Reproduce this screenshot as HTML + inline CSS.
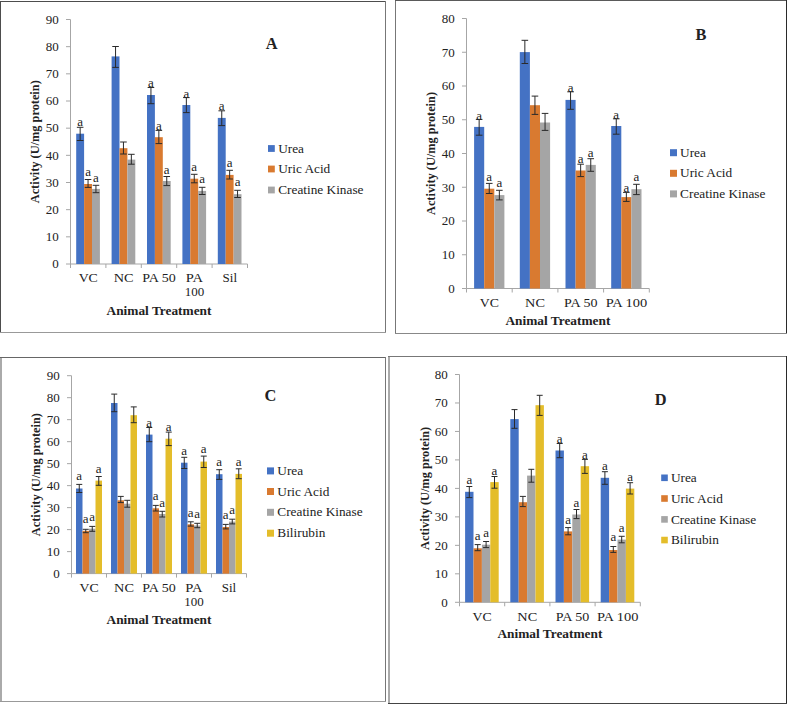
<!DOCTYPE html>
<html><head><meta charset="utf-8"><style>
html,body{margin:0;padding:0;background:#fff;}
body{width:787px;height:704px;overflow:hidden;}
svg{display:block;}
text{font-family:"Liberation Serif",serif;font-size:13px;fill:#222;}
text.a{font-size:13px;}
text.leg{font-size:13.3px;}
text.ttl{font-size:16.4px;}
</style></head><body>
<svg width="787" height="704" viewBox="0 0 787 704">
<rect width="787" height="704" fill="#fff"/>
<rect x="0" y="1" width="1" height="332" fill="#4d4d4d"/>
<rect x="0" y="1" width="386" height="1" fill="#4d4d4d"/>
<rect x="385" y="1" width="1" height="332" fill="#777"/>
<rect x="0" y="332" width="386" height="1" fill="#999"/>
<path d="M70.5 19.5V264H247.5" fill="none" stroke="#A6A6A6" stroke-width="1"/>
<path d="M66 264H70.5M66 236.83H70.5M66 209.67H70.5M66 182.5H70.5M66 155.33H70.5M66 128.16H70.5M66 101H70.5M66 73.83H70.5M66 46.66H70.5M66 19.5H70.5M70.5 264V268M105.9 264V268M141.3 264V268M176.7 264V268M212.1 264V268M247.5 264V268" fill="none" stroke="#A6A6A6" stroke-width="1"/>
<text x="58.7" y="268.3" text-anchor="end">0</text>
<text x="58.7" y="241.13" text-anchor="end">10</text>
<text x="58.7" y="213.97" text-anchor="end">20</text>
<text x="58.7" y="186.8" text-anchor="end">30</text>
<text x="58.7" y="159.63" text-anchor="end">40</text>
<text x="58.7" y="132.47" text-anchor="end">50</text>
<text x="58.7" y="105.3" text-anchor="end">60</text>
<text x="58.7" y="78.13" text-anchor="end">70</text>
<text x="58.7" y="50.96" text-anchor="end">80</text>
<text x="58.7" y="23.8" text-anchor="end">90</text>
<rect x="76.2" y="133.7" width="7.9" height="130.3" fill="#4472C4"/>
<rect x="84.1" y="184" width="7.9" height="80" fill="#D97A30"/>
<rect x="92" y="188.9" width="7.9" height="75.1" fill="#A5A5A5"/>
<rect x="111.6" y="56.4" width="7.9" height="207.6" fill="#4472C4"/>
<rect x="119.5" y="148.2" width="7.9" height="115.8" fill="#D97A30"/>
<rect x="127.4" y="159.6" width="7.9" height="104.4" fill="#A5A5A5"/>
<rect x="147" y="95" width="7.9" height="169" fill="#4472C4"/>
<rect x="154.9" y="137.2" width="7.9" height="126.8" fill="#D97A30"/>
<rect x="162.8" y="181" width="7.9" height="83" fill="#A5A5A5"/>
<rect x="182.4" y="105" width="7.9" height="159" fill="#4472C4"/>
<rect x="190.3" y="178.7" width="7.9" height="85.3" fill="#D97A30"/>
<rect x="198.2" y="190.9" width="7.9" height="73.1" fill="#A5A5A5"/>
<rect x="217.8" y="117.9" width="7.9" height="146.1" fill="#4472C4"/>
<rect x="225.7" y="174.9" width="7.9" height="89.1" fill="#D97A30"/>
<rect x="233.6" y="194.2" width="7.9" height="69.8" fill="#A5A5A5"/>
<path d="M80.15 127.3V140.5M76.85 127.3H83.45M76.85 140.5H83.45M88.05 179.5V187.4M84.75 179.5H91.35M84.75 187.4H91.35M95.95 185.3V192.7M92.65 185.3H99.25M92.65 192.7H99.25M115.55 46.5V67.4M112.25 46.5H118.85M112.25 67.4H118.85M123.45 142V154M120.15 142H126.75M120.15 154H126.75M131.35 154.3V164.2M128.05 154.3H134.65M128.05 164.2H134.65M150.95 87.5V103.7M147.65 87.5H154.25M147.65 103.7H154.25M158.85 130.4V143.6M155.55 130.4H162.15M155.55 143.6H162.15M166.75 176.5V185.6M163.45 176.5H170.05M163.45 185.6H170.05M186.35 97.6V112.6M183.05 97.6H189.65M183.05 112.6H189.65M194.25 174.3V182.8M190.95 174.3H197.55M190.95 182.8H197.55M202.15 187.3V194.5M198.85 187.3H205.45M198.85 194.5H205.45M221.75 110.8V125.6M218.45 110.8H225.05M218.45 125.6H225.05M229.65 170.3V179M226.35 170.3H232.95M226.35 179H232.95M237.55 190.3V197.5M234.25 190.3H240.85M234.25 197.5H240.85" fill="none" stroke="#2a2a2a" stroke-width="1"/>
<text class="a" x="80.15" y="126" text-anchor="middle">a</text>
<text class="a" x="88.05" y="176.3" text-anchor="middle">a</text>
<text class="a" x="95.95" y="181.7" text-anchor="middle">a</text>
<text class="a" x="150.95" y="87.2" text-anchor="middle">a</text>
<text class="a" x="158.85" y="129.7" text-anchor="middle">a</text>
<text class="a" x="166.75" y="173.7" text-anchor="middle">a</text>
<text class="a" x="186.35" y="97.5" text-anchor="middle">a</text>
<text class="a" x="194.25" y="171.1" text-anchor="middle">a</text>
<text class="a" x="202.15" y="183.1" text-anchor="middle">a</text>
<text class="a" x="221.75" y="110.3" text-anchor="middle">a</text>
<text class="a" x="229.65" y="167.2" text-anchor="middle">a</text>
<text class="a" x="237.55" y="186" text-anchor="middle">a</text>
<text class="cat" x="88.2" y="282" text-anchor="middle" textLength="19.15" lengthAdjust="spacingAndGlyphs">VC</text>
<text class="cat" x="123.6" y="282" text-anchor="middle" textLength="19.87" lengthAdjust="spacingAndGlyphs">NC</text>
<text class="cat" x="159" y="282" text-anchor="middle" textLength="33.45" lengthAdjust="spacingAndGlyphs">PA 50</text>
<text class="cat" x="194.4" y="282" text-anchor="middle" textLength="17.29" lengthAdjust="spacingAndGlyphs">PA</text>
<text class="cat" x="194.4" y="295.8" text-anchor="middle">100</text>
<text class="cat" x="229.8" y="282" text-anchor="middle">Sil</text>
<text class="xt" x="159" y="314.7" text-anchor="middle" font-weight="bold" textLength="105.0" lengthAdjust="spacingAndGlyphs">Animal Treatment</text>
<text class="yt" transform="translate(38.6 141.75) rotate(-90)" x="0" y="0" text-anchor="middle" font-weight="bold" textLength="123.0" lengthAdjust="spacingAndGlyphs">Activity (U/mg protein)</text>
<text class="ttl" x="265.8" y="49.2" font-weight="bold" font-size="16">A</text>
<rect x="268" y="145.1" width="6.8" height="6.8" fill="#4472C4"/>
<text class="leg" x="278.2" y="152.6">Urea</text>
<rect x="268" y="165.6" width="6.8" height="6.8" fill="#D97A30"/>
<text class="leg" x="278.2" y="173.1">Uric Acid</text>
<rect x="268" y="186.6" width="6.8" height="6.8" fill="#A5A5A5"/>
<text class="leg" x="278.2" y="194.1">Creatine Kinase</text>
<rect x="395" y="0" width="1" height="334" fill="#777"/>
<rect x="395" y="0" width="392" height="1" fill="#5a5a5a"/>
<rect x="786" y="0" width="1" height="334" fill="#2a2a2a"/>
<rect x="395" y="333" width="392" height="1" fill="#888"/>
<path d="M466.5 18.5V288.5H649.3" fill="none" stroke="#A6A6A6" stroke-width="1"/>
<path d="M462 288.5H466.5M462 254.75H466.5M462 221H466.5M462 187.25H466.5M462 153.5H466.5M462 119.75H466.5M462 86H466.5M462 52.25H466.5M462 18.5H466.5M466.5 288.5V292.5M512.2 288.5V292.5M557.9 288.5V292.5M603.6 288.5V292.5M649.3 288.5V292.5" fill="none" stroke="#A6A6A6" stroke-width="1"/>
<text x="454.7" y="292.8" text-anchor="end">0</text>
<text x="454.7" y="259.05" text-anchor="end">10</text>
<text x="454.7" y="225.3" text-anchor="end">20</text>
<text x="454.7" y="191.55" text-anchor="end">30</text>
<text x="454.7" y="157.8" text-anchor="end">40</text>
<text x="454.7" y="124.05" text-anchor="end">50</text>
<text x="454.7" y="90.3" text-anchor="end">60</text>
<text x="454.7" y="56.55" text-anchor="end">70</text>
<text x="454.7" y="22.8" text-anchor="end">80</text>
<rect x="474.1" y="126.9" width="10.1" height="161.6" fill="#4472C4"/>
<rect x="484.2" y="188.7" width="10.1" height="99.8" fill="#D97A30"/>
<rect x="494.3" y="195.1" width="10.1" height="93.4" fill="#A5A5A5"/>
<rect x="519.8" y="52.1" width="10.1" height="236.4" fill="#4472C4"/>
<rect x="529.9" y="105.2" width="10.1" height="183.3" fill="#D97A30"/>
<rect x="540" y="122.5" width="10.1" height="166" fill="#A5A5A5"/>
<rect x="565.5" y="99.9" width="10.1" height="188.6" fill="#4472C4"/>
<rect x="575.6" y="170.5" width="10.1" height="118" fill="#D97A30"/>
<rect x="585.7" y="164.9" width="10.1" height="123.6" fill="#A5A5A5"/>
<rect x="611.2" y="126" width="10.1" height="162.5" fill="#4472C4"/>
<rect x="621.3" y="197.1" width="10.1" height="91.4" fill="#D97A30"/>
<rect x="631.4" y="189.2" width="10.1" height="99.3" fill="#A5A5A5"/>
<path d="M479.15 119.4V135.2M475.85 119.4H482.45M475.85 135.2H482.45M489.25 183.4V193.5M485.95 183.4H492.55M485.95 193.5H492.55M499.35 190.3V199.9M496.05 190.3H502.65M496.05 199.9H502.65M524.85 40.3V63.5M521.55 40.3H528.15M521.55 63.5H528.15M534.95 96.1V114.4M531.65 96.1H538.25M531.65 114.4H538.25M545.05 113.4V130.4M541.75 113.4H548.35M541.75 130.4H548.35M570.55 91.8V109.3M567.25 91.8H573.85M567.25 109.3H573.85M580.65 164.2V176.6M577.35 164.2H583.95M577.35 176.6H583.95M590.75 158.7V171.3M587.45 158.7H594.05M587.45 171.3H594.05M616.25 118.8V134.2M612.95 118.8H619.55M612.95 134.2H619.55M626.35 192.4V201.4M623.05 192.4H629.65M623.05 201.4H629.65M636.45 184.3V194.6M633.15 184.3H639.75M633.15 194.6H639.75" fill="none" stroke="#2a2a2a" stroke-width="1"/>
<text class="a" x="479.15" y="119.5" text-anchor="middle">a</text>
<text class="a" x="489.25" y="180.9" text-anchor="middle">a</text>
<text class="a" x="499.35" y="187.3" text-anchor="middle">a</text>
<text class="a" x="570.55" y="91.9" text-anchor="middle">a</text>
<text class="a" x="580.65" y="163.1" text-anchor="middle">a</text>
<text class="a" x="590.75" y="157" text-anchor="middle">a</text>
<text class="a" x="616.25" y="118.8" text-anchor="middle">a</text>
<text class="a" x="626.35" y="192.4" text-anchor="middle">a</text>
<text class="a" x="636.45" y="181.4" text-anchor="middle">a</text>
<text class="cat" x="489.35" y="306.7" text-anchor="middle" textLength="19.15" lengthAdjust="spacingAndGlyphs">VC</text>
<text class="cat" x="535.05" y="306.7" text-anchor="middle" textLength="19.87" lengthAdjust="spacingAndGlyphs">NC</text>
<text class="cat" x="580.75" y="306.7" text-anchor="middle" textLength="33.45" lengthAdjust="spacingAndGlyphs">PA 50</text>
<text class="cat" x="626.45" y="306.7" text-anchor="middle" textLength="41.59" lengthAdjust="spacingAndGlyphs">PA 100</text>
<text class="xt" x="557.9" y="324.5" text-anchor="middle" font-weight="bold" textLength="105.0" lengthAdjust="spacingAndGlyphs">Animal Treatment</text>
<text class="yt" transform="translate(435.2 153.5) rotate(-90)" x="0" y="0" text-anchor="middle" font-weight="bold" textLength="123.0" lengthAdjust="spacingAndGlyphs">Activity (U/mg protein)</text>
<text class="ttl" x="695.5" y="39.9" font-weight="bold" font-size="16">B</text>
<rect x="670" y="149.2" width="7" height="7" fill="#4472C4"/>
<text class="leg" x="680.1" y="156.8">Urea</text>
<rect x="670" y="169.8" width="7" height="7" fill="#D97A30"/>
<text class="leg" x="680.1" y="177.4">Uric Acid</text>
<rect x="670" y="190.4" width="7" height="7" fill="#A5A5A5"/>
<text class="leg" x="680.1" y="198">Creatine Kinase</text>
<rect x="0" y="357" width="2" height="345" fill="#aaa"/>
<rect x="0" y="357" width="386" height="1" fill="#666"/>
<rect x="385" y="357" width="1" height="345" fill="#777"/>
<rect x="0" y="701" width="386" height="1" fill="#999"/>
<path d="M71.5 375.69V573.6H246.5" fill="none" stroke="#A6A6A6" stroke-width="1"/>
<path d="M67 573.6H71.5M67 551.61H71.5M67 529.62H71.5M67 507.63H71.5M67 485.64H71.5M67 463.65H71.5M67 441.66H71.5M67 419.67H71.5M67 397.68H71.5M67 375.69H71.5M71.5 573.6V577.6M106.5 573.6V577.6M141.5 573.6V577.6M176.5 573.6V577.6M211.5 573.6V577.6M246.5 573.6V577.6" fill="none" stroke="#A6A6A6" stroke-width="1"/>
<text x="59.7" y="577.9" text-anchor="end">0</text>
<text x="59.7" y="555.91" text-anchor="end">10</text>
<text x="59.7" y="533.92" text-anchor="end">20</text>
<text x="59.7" y="511.93" text-anchor="end">30</text>
<text x="59.7" y="489.94" text-anchor="end">40</text>
<text x="59.7" y="467.95" text-anchor="end">50</text>
<text x="59.7" y="445.96" text-anchor="end">60</text>
<text x="59.7" y="423.97" text-anchor="end">70</text>
<text x="59.7" y="401.98" text-anchor="end">80</text>
<text x="59.7" y="379.99" text-anchor="end">90</text>
<rect x="76" y="488.5" width="6.5" height="85.1" fill="#4472C4"/>
<rect x="82.5" y="530.8" width="6.5" height="42.8" fill="#D97A30"/>
<rect x="89" y="528.7" width="6.5" height="44.9" fill="#A5A5A5"/>
<rect x="95.5" y="480.6" width="6.5" height="93" fill="#E4BD2A"/>
<rect x="111" y="403" width="6.5" height="170.6" fill="#4472C4"/>
<rect x="117.5" y="500.3" width="6.5" height="73.3" fill="#D97A30"/>
<rect x="124" y="503.7" width="6.5" height="69.9" fill="#A5A5A5"/>
<rect x="130.5" y="415.2" width="6.5" height="158.4" fill="#E4BD2A"/>
<rect x="146" y="434.6" width="6.5" height="139" fill="#4472C4"/>
<rect x="152.5" y="508.3" width="6.5" height="65.3" fill="#D97A30"/>
<rect x="159" y="514" width="6.5" height="59.6" fill="#A5A5A5"/>
<rect x="165.5" y="438.7" width="6.5" height="134.9" fill="#E4BD2A"/>
<rect x="181" y="462.7" width="6.5" height="110.9" fill="#4472C4"/>
<rect x="187.5" y="524.3" width="6.5" height="49.3" fill="#D97A30"/>
<rect x="194" y="525.5" width="6.5" height="48.1" fill="#A5A5A5"/>
<rect x="200.5" y="461.6" width="6.5" height="112" fill="#E4BD2A"/>
<rect x="216" y="474.2" width="6.5" height="99.4" fill="#4472C4"/>
<rect x="222.5" y="527" width="6.5" height="46.6" fill="#D97A30"/>
<rect x="229" y="521.6" width="6.5" height="52" fill="#A5A5A5"/>
<rect x="235.5" y="473.9" width="6.5" height="99.7" fill="#E4BD2A"/>
<path d="M79.25 484.4V492.5M76.25 484.4H82.25M76.25 492.5H82.25M85.75 529.3V532.7M82.75 529.3H88.75M82.75 532.7H88.75M92.25 526.4V531.3M89.25 526.4H95.25M89.25 531.3H95.25M98.75 476.5V485.3M95.75 476.5H101.75M95.75 485.3H101.75M114.25 394.1V411.7M111.25 394.1H117.25M111.25 411.7H117.25M120.75 496.4V502.6M117.75 496.4H123.75M117.75 502.6H123.75M127.25 500.3V507.2M124.25 500.3H130.25M124.25 507.2H130.25M133.75 406.9V422.7M130.75 406.9H136.75M130.75 422.7H136.75M149.25 427.5V441.7M146.25 427.5H152.25M146.25 441.7H152.25M155.75 505.4V511M152.75 505.4H158.75M152.75 511H158.75M162.25 511.3V517M159.25 511.3H165.25M159.25 517H165.25M168.75 432.1V445.6M165.75 432.1H171.75M165.75 445.6H171.75M184.25 457.3V468.5M181.25 457.3H187.25M181.25 468.5H187.25M190.75 521.8V526.1M187.75 521.8H193.75M187.75 526.1H193.75M197.25 523.3V527.7M194.25 523.3H200.25M194.25 527.7H200.25M203.75 456.1V467.5M200.75 456.1H206.75M200.75 467.5H206.75M219.25 469.7V479.4M216.25 469.7H222.25M216.25 479.4H222.25M225.75 524.4V528.9M222.75 524.4H228.75M222.75 528.9H228.75M232.25 519.2V523.9M229.25 519.2H235.25M229.25 523.9H235.25M238.75 468.8V478.7M235.75 468.8H241.75M235.75 478.7H241.75" fill="none" stroke="#2a2a2a" stroke-width="1"/>
<text class="a" x="79.25" y="479.9" text-anchor="middle">a</text>
<text class="a" x="85.75" y="523.1" text-anchor="middle">a</text>
<text class="a" x="92.25" y="520.8" text-anchor="middle">a</text>
<text class="a" x="98.75" y="472.5" text-anchor="middle">a</text>
<text class="a" x="149.25" y="427" text-anchor="middle">a</text>
<text class="a" x="155.75" y="500.3" text-anchor="middle">a</text>
<text class="a" x="162.25" y="507.1" text-anchor="middle">a</text>
<text class="a" x="168.75" y="431.3" text-anchor="middle">a</text>
<text class="a" x="184.25" y="455.1" text-anchor="middle">a</text>
<text class="a" x="190.75" y="516.5" text-anchor="middle">a</text>
<text class="a" x="197.25" y="518.2" text-anchor="middle">a</text>
<text class="a" x="203.75" y="453.4" text-anchor="middle">a</text>
<text class="a" x="219.25" y="466.2" text-anchor="middle">a</text>
<text class="a" x="225.75" y="518.6" text-anchor="middle">a</text>
<text class="a" x="232.25" y="513.5" text-anchor="middle">a</text>
<text class="a" x="238.75" y="465.6" text-anchor="middle">a</text>
<text class="cat" x="89" y="592" text-anchor="middle" textLength="19.15" lengthAdjust="spacingAndGlyphs">VC</text>
<text class="cat" x="124" y="592" text-anchor="middle" textLength="19.87" lengthAdjust="spacingAndGlyphs">NC</text>
<text class="cat" x="159" y="592" text-anchor="middle" textLength="33.45" lengthAdjust="spacingAndGlyphs">PA 50</text>
<text class="cat" x="194" y="592" text-anchor="middle" textLength="17.29" lengthAdjust="spacingAndGlyphs">PA</text>
<text class="cat" x="194" y="605.8" text-anchor="middle">100</text>
<text class="cat" x="229" y="592" text-anchor="middle">Sil</text>
<text class="xt" x="159" y="624.2" text-anchor="middle" font-weight="bold" textLength="105.0" lengthAdjust="spacingAndGlyphs">Animal Treatment</text>
<text class="yt" transform="translate(40.3 474.65) rotate(-90)" x="0" y="0" text-anchor="middle" font-weight="bold" textLength="123.0" lengthAdjust="spacingAndGlyphs">Activity (U/mg protein)</text>
<text class="ttl" x="264.5" y="401.1" font-weight="bold" font-size="16">C</text>
<rect x="267" y="467.4" width="7" height="7" fill="#4472C4"/>
<text class="leg" x="277.3" y="475">Urea</text>
<rect x="267" y="488" width="7" height="7" fill="#D97A30"/>
<text class="leg" x="277.3" y="495.6">Uric Acid</text>
<rect x="267" y="508.8" width="7" height="7" fill="#A5A5A5"/>
<text class="leg" x="277.3" y="516.4">Creatine Kinase</text>
<rect x="267" y="529.7" width="7" height="7" fill="#E4BD2A"/>
<text class="leg" x="277.3" y="537.3">Bilirubin</text>
<rect x="388" y="356" width="2" height="348" fill="#aaa"/>
<rect x="388" y="356" width="399" height="1" fill="#777"/>
<rect x="786" y="356" width="1" height="348" fill="#2a2a2a"/>
<rect x="388" y="703" width="399" height="1" fill="#444"/>
<path d="M459.5 374.5V602.3H640.3" fill="none" stroke="#A6A6A6" stroke-width="1"/>
<path d="M455 602.3H459.5M455 573.82H459.5M455 545.35H459.5M455 516.88H459.5M455 488.4H459.5M455 459.92H459.5M455 431.45H459.5M455 402.97H459.5M455 374.5H459.5M459.5 602.3V606.3M504.7 602.3V606.3M549.9 602.3V606.3M595.1 602.3V606.3M640.3 602.3V606.3" fill="none" stroke="#A6A6A6" stroke-width="1"/>
<text x="447.7" y="606.6" text-anchor="end">0</text>
<text x="447.7" y="578.12" text-anchor="end">10</text>
<text x="447.7" y="549.65" text-anchor="end">20</text>
<text x="447.7" y="521.17" text-anchor="end">30</text>
<text x="447.7" y="492.7" text-anchor="end">40</text>
<text x="447.7" y="464.22" text-anchor="end">50</text>
<text x="447.7" y="435.75" text-anchor="end">60</text>
<text x="447.7" y="407.27" text-anchor="end">70</text>
<text x="447.7" y="378.8" text-anchor="end">80</text>
<rect x="465.1" y="491.8" width="8.4" height="110.5" fill="#4472C4"/>
<rect x="473.5" y="548.3" width="8.4" height="54" fill="#D97A30"/>
<rect x="481.9" y="544.7" width="8.4" height="57.6" fill="#A5A5A5"/>
<rect x="490.3" y="482.1" width="8.4" height="120.2" fill="#E4BD2A"/>
<rect x="510.3" y="419.1" width="8.4" height="183.2" fill="#4472C4"/>
<rect x="518.7" y="502.2" width="8.4" height="100.1" fill="#D97A30"/>
<rect x="527.1" y="475.6" width="8.4" height="126.7" fill="#A5A5A5"/>
<rect x="535.5" y="405.2" width="8.4" height="197.1" fill="#E4BD2A"/>
<rect x="555.5" y="450.5" width="8.4" height="151.8" fill="#4472C4"/>
<rect x="563.9" y="531.4" width="8.4" height="70.9" fill="#D97A30"/>
<rect x="572.3" y="514.5" width="8.4" height="87.8" fill="#A5A5A5"/>
<rect x="580.7" y="466.2" width="8.4" height="136.1" fill="#E4BD2A"/>
<rect x="600.7" y="477.8" width="8.4" height="124.5" fill="#4472C4"/>
<rect x="609.1" y="550" width="8.4" height="52.3" fill="#D97A30"/>
<rect x="617.5" y="539.6" width="8.4" height="62.7" fill="#A5A5A5"/>
<rect x="625.9" y="488.6" width="8.4" height="113.7" fill="#E4BD2A"/>
<path d="M469.3 486.5V497.6M466.3 486.5H472.3M466.3 497.6H472.3M477.7 544.6V550.7M474.7 544.6H480.7M474.7 550.7H480.7M486.1 541.5V547.6M483.1 541.5H489.1M483.1 547.6H489.1M494.5 476.5V488.2M491.5 476.5H497.5M491.5 488.2H497.5M514.5 409.6V428.3M511.5 409.6H517.5M511.5 428.3H517.5M522.9 496.4V506.6M519.9 496.4H525.9M519.9 506.6H525.9M531.3 469.3V482.2M528.3 469.3H534.3M528.3 482.2H534.3M539.7 395.3V415.4M536.7 395.3H542.7M536.7 415.4H542.7M559.7 443.5V457.7M556.7 443.5H562.7M556.7 457.7H562.7M568.1 527.6V534.8M565.1 527.6H571.1M565.1 534.8H571.1M576.5 509.5V518.6M573.5 509.5H579.5M573.5 518.6H579.5M584.9 459.4V473.4M581.9 459.4H587.9M581.9 473.4H587.9M604.9 471.7V484.3M601.9 471.7H607.9M601.9 484.3H607.9M613.3 546.5V552.4M610.3 546.5H616.3M610.3 552.4H616.3M621.7 536.3V542.8M618.7 536.3H624.7M618.7 542.8H624.7M630.1 482.7V494M627.1 482.7H633.1M627.1 494H633.1" fill="none" stroke="#2a2a2a" stroke-width="1"/>
<text class="a" x="469.3" y="484.4" text-anchor="middle">a</text>
<text class="a" x="477.7" y="540.2" text-anchor="middle">a</text>
<text class="a" x="486.1" y="536.7" text-anchor="middle">a</text>
<text class="a" x="494.5" y="474.5" text-anchor="middle">a</text>
<text class="a" x="559.7" y="443.2" text-anchor="middle">a</text>
<text class="a" x="568.1" y="523.6" text-anchor="middle">a</text>
<text class="a" x="576.5" y="506.8" text-anchor="middle">a</text>
<text class="a" x="584.9" y="459.1" text-anchor="middle">a</text>
<text class="a" x="604.9" y="470.3" text-anchor="middle">a</text>
<text class="a" x="613.3" y="541.4" text-anchor="middle">a</text>
<text class="a" x="621.7" y="531.6" text-anchor="middle">a</text>
<text class="a" x="630.1" y="480.9" text-anchor="middle">a</text>
<text class="cat" x="482.1" y="620.9" text-anchor="middle" textLength="19.15" lengthAdjust="spacingAndGlyphs">VC</text>
<text class="cat" x="527.3" y="620.9" text-anchor="middle" textLength="19.87" lengthAdjust="spacingAndGlyphs">NC</text>
<text class="cat" x="572.5" y="620.9" text-anchor="middle" textLength="33.45" lengthAdjust="spacingAndGlyphs">PA 50</text>
<text class="cat" x="617.7" y="620.9" text-anchor="middle" textLength="41.59" lengthAdjust="spacingAndGlyphs">PA 100</text>
<text class="xt" x="549.9" y="638.2" text-anchor="middle" font-weight="bold" textLength="105.0" lengthAdjust="spacingAndGlyphs">Animal Treatment</text>
<text class="yt" transform="translate(428.6 488.4) rotate(-90)" x="0" y="0" text-anchor="middle" font-weight="bold" textLength="123.0" lengthAdjust="spacingAndGlyphs">Activity (U/mg protein)</text>
<text class="ttl" x="654.7" y="404.9" font-weight="bold" font-size="16">D</text>
<rect x="661.2" y="474.5" width="6.6" height="6.6" fill="#4472C4"/>
<text class="leg" x="670.9" y="481.9">Urea</text>
<rect x="661.2" y="495.2" width="6.6" height="6.6" fill="#D97A30"/>
<text class="leg" x="670.9" y="502.6">Uric Acid</text>
<rect x="661.2" y="516.1" width="6.6" height="6.6" fill="#A5A5A5"/>
<text class="leg" x="670.9" y="523.5">Creatine Kinase</text>
<rect x="661.2" y="536.75" width="6.6" height="6.6" fill="#E4BD2A"/>
<text class="leg" x="670.9" y="544.15">Bilirubin</text>
</svg>
</body></html>
